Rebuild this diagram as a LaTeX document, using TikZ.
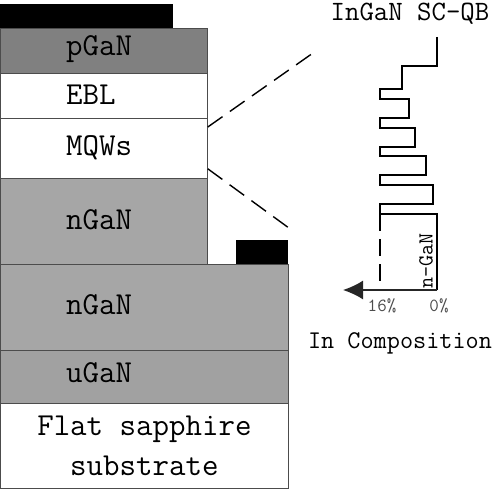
\documentclass[tikz,border=0pt]{standalone}
\usepackage{fontspec}
\usetikzlibrary{positioning,arrows.meta}

\begin{document}
\begin{tikzpicture}[
        x=1pt, y=-1pt,
        layer/.style={draw=black!70, line width=0.8pt, anchor=north west, inner sep=0pt},
        layertext/.style={inner sep=0pt, font=\ttfamily\fontsize{32}{40}\selectfont},
        contact/.style={fill=black},
        guide/.style={line width=1.4pt, dash pattern=on 18pt off 9pt},
        profile/.style={line width=1.4pt},
        >=Stealth
    ]
        \useasboundingbox (0,0) rectangle (500,489);

        % Contacts
        \path[contact] (0,4) rectangle (173,28);
        \path[contact] (236,240) rectangle (288,264);

        % Layer stack
        \node[layer, fill=black!50, minimum width=207pt, minimum height=45pt] (pgan) at (0,28) {};
        \node[layer, fill=white, minimum width=207pt, minimum height=45pt] (ebl) at (0,73) {};
        \node[layer, fill=white, minimum width=207pt, minimum height=60pt] (mqw) at (0,118) {};
        \node[layer, fill=black!35, minimum width=207pt, minimum height=86pt] (ngantop) at (0,178) {};
        \node[layer, fill=black!35, minimum width=288pt, minimum height=86pt] (nganlow) at (0,264) {};
        \node[layer, fill=black!37, minimum width=288pt, minimum height=53pt] (ugan) at (0,350) {};
        \node[layer, fill=white, minimum width=288pt, minimum height=85pt, align=center, font=\ttfamily\fontsize{32}{40}\selectfont] (sapphire) at (0,403) {Flat sapphire\\substrate};

        % Layer labels
        \node[layertext, right=66pt of pgan.west, yshift=2pt] (pganlabel) {pGaN};
        \node[layertext, right=66pt of ebl.west, yshift=1pt] (ebllabel) {EBL};
        \node[layertext, right=66pt of mqw.west, yshift=1pt] (mqwlabel) {MQWs};
        \node[layertext, right=66pt of ngantop.west, yshift=2pt] (ngantoplabel) {nGaN};
        \node[layertext, right=66pt of nganlow.west, yshift=3pt] (nganlowlabel) {nGaN};
        \node[layertext, right=66pt of ugan.west, yshift=4pt] (uganlabel) {uGaN};

        % Zoom guides
        \coordinate (guideup) at (313,53);
        \coordinate (guidedown) at (293,231);
        \draw[guide] (mqw.north east) ++(0,9) -- (guideup);
        \draw[guide] (mqw.south east) ++(0,-10) -- (guidedown);

        % Composition profile
        \coordinate (start) at (437,37);
        \coordinate (origin) at (437,290);
        \coordinate (well) at (380,214);
        \coordinate (wellbase) at (380,290);
        \coordinate (tip) at (343,290);
        \draw[profile] (start) |- (402,66) |- (380,89) |- (409,99) |- (380,118) |- (415,128) |- (380,147)
            |- (426,156) |- (380,175) |- (433,185) |- (380,204) -- (well) -| (origin);
        \draw[guide, dash pattern=on 17pt off 8pt] (well) -- (wellbase);
        \draw[profile, -{Latex[length=20pt, width=19pt]}, draw=black!85, fill=black!85] (origin) -- (tip);

        % Labels
        \node[font=\ttfamily\fontsize{28}{30}\selectfont, inner sep=0pt] (title) at (410,14) {InGaN SC-QB};
        \node[font=\ttfamily\fontsize{25.5}{28}\selectfont, inner sep=0pt] (axis) at (400,343) {In Composition};
        \node[font=\ttfamily\fontsize{18.5}{20}\selectfont, text=black!70, inner sep=0pt] (high) at (382,306) {16\%};
        \node[font=\ttfamily\fontsize{18.5}{20}\selectfont, text=black!70, inner sep=0pt] (low) at (439,306) {0\%};
        \node[font=\ttfamily\fontsize{21.5}{24}\selectfont, rotate=90, anchor=west, inner sep=0pt] (ngan) at (426,289) {n-GaN};
    \end{tikzpicture}
\end{document}
